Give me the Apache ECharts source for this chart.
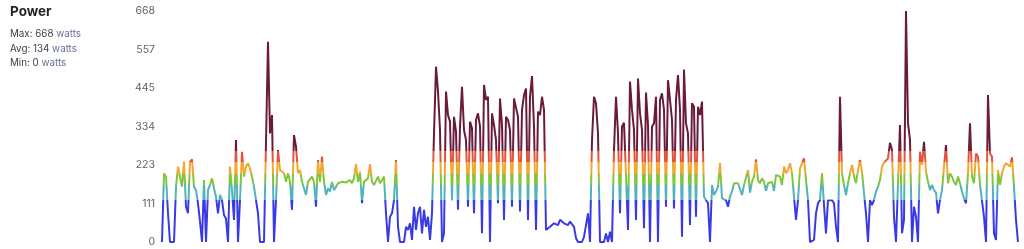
<!DOCTYPE html>
<html>
<head>
<meta charset="utf-8">
<script src="https://cdn.jsdelivr.net/npm/echarts@6/dist/echarts.min.js"></script>
<style>
html,body{margin:0;padding:0;background:#fff;}
#chart{width:1024px;height:249px;}
</style>
</head>
<body>
<div id="chart"></div>
<script>
// ---- data ----
const chartTitle = 'Power';
const statLabels = ['Max', 'Avg', 'Min'];
const statValues = [668, 134, 0];
const unitLabel = 'watts';
const yMin = 0;
const yMax = 668;
const yTickCount = 6;
// zone thresholds (watts) and colours
const zoneEdges = [121, 165, 198, 231, 264];
const zoneColors = ['#3a3ae4', '#52b2bd', '#82c43c', '#f2a72e', '#e3543e', '#6a1b3a'];
// power samples (watts), evenly spaced in time
const powerValues = [
0,199,189,83,0,0,0,160,218,223,
160,232,102,83,232,239,160,150,112,59,
0,179,0,150,165,184,155,131,83,136,
121,78,68,0,218,150,64,295,0,121,
261,189,218,228,213,189,160,121,83,0,
0,0,0,579,314,367,0,121,266,208,
203,199,174,199,174,93,309,276,199,208,
174,170,136,174,179,189,174,102,237,174,
247,174,136,155,146,174,150,160,170,165,
174,170,172,174,179,170,184,226,174,203,
112,174,179,184,225,174,165,160,189,170,
179,189,83,0,73,83,121,237,44,0,
0,0,44,35,54,6,102,35,83,102,
25,93,44,73,6,83,314,507,435,324,
0,25,435,367,348,121,362,319,93,334,
449,324,295,102,348,329,83,353,372,334,
25,454,411,420,0,372,338,295,112,415,
338,64,362,353,324,102,415,411,362,88,
382,425,444,64,420,480,334,35,377,367,
420,382,35,35,44,40,54,59,49,64,
68,54,59,49,59,64,44,11,0,0,
0,15,20,83,0,295,420,401,314,0,
0,0,25,0,30,0,266,420,314,83,
334,345,348,35,464,382,324,64,473,372,
324,40,432,338,0,334,343,420,0,411,
430,382,102,468,411,353,97,411,483,382,
15,499,343,314,49,401,391,73,391,367,
406,131,126,112,0,165,136,146,160,228,
126,121,121,102,131,146,170,165,170,174,
136,165,165,208,143,174,189,239,179,170,
184,174,148,170,165,174,148,194,199,189,
165,218,199,208,228,199,131,64,121,213,
213,242,179,121,0,0,6,83,112,121,
199,107,25,121,119,121,112,44,0,420,
199,165,136,170,199,223,189,170,208,237,
203,141,83,0,121,107,121,146,160,179,
218,229,229,242,287,266,73,0,0,338,
25,64,668,343,295,0,102,73,0,261,
223,290,203,174,150,165,150,143,83,121,
150,218,280,170,199,189,174,165,189,170,
146,126,112,199,343,189,170,256,247,165,
165,73,0,425,256,247,25,6,208,165,
199,218,228,223,218,245,160,64,0
];
const sampleIndex = powerValues.map((_, i) => i);

// ---- chart ----
const chart = echarts.init(document.getElementById('chart'), null, {renderer: 'canvas'});

const pieces = zoneColors.map((c, i) => {
  const p = {color: c};
  if (i > 0) p.gte = zoneEdges[i - 1];
  if (i < zoneEdges.length) p.lt = zoneEdges[i];
  return p;
});

const statText = statLabels.map((l, i) =>
  '{v|' + l + ': ' + statValues[i] + '} {u|' + unitLabel + '}').join('\n');

chart.setOption({
  animation: false,
  backgroundColor: '#ffffff',
  title: [
    {
      text: chartTitle,
      left: 10, top: 5, padding: 0,
      textStyle: {fontFamily: 'Inter', fontSize: 13.5, fontWeight: 'bold', color: '#1f2328'}
    },
    {
      text: statText,
      left: 10, top: 27, padding: 0,
      textStyle: {
        fontFamily: 'Inter', fontSize: 9.8, fontWeight: 'normal', lineHeight: 14.5,
        rich: {
          v: {fontFamily: 'Inter', fontSize: 9.8, fontWeight: 'normal', color: '#3a3f45', lineHeight: 14.5},
          u: {fontFamily: 'Inter', fontSize: 9.8, fontWeight: 'normal', color: '#6a6f9a', lineHeight: 14.5}
        }
      }
    }
  ],
  grid: {left: 162, right: 6, top: 11, bottom: 7, containLabel: false},
  xAxis: {
    type: 'category',
    data: sampleIndex,
    boundaryGap: false,
    show: false
  },
  yAxis: {
    type: 'value',
    min: yMin,
    max: yMax,
    interval: (yMax - yMin) / yTickCount,
    axisLine: {show: false},
    axisTick: {show: false},
    splitLine: {show: false},
    axisLabel: {
      fontFamily: 'Inter',
      fontSize: 10.5,
      color: '#5f6368',
      margin: 7,
      formatter: v => String(Math.round(v))
    }
  },
  visualMap: {
    type: 'piecewise',
    show: false,
    dimension: 1,
    seriesIndex: 0,
    pieces: pieces
  },
  series: [{
    type: 'line',
    data: powerValues,
    showSymbol: false,
    symbol: 'none',
    lineStyle: {width: 2},
    smooth: false
  }]
});
</script>
</body>
</html>
